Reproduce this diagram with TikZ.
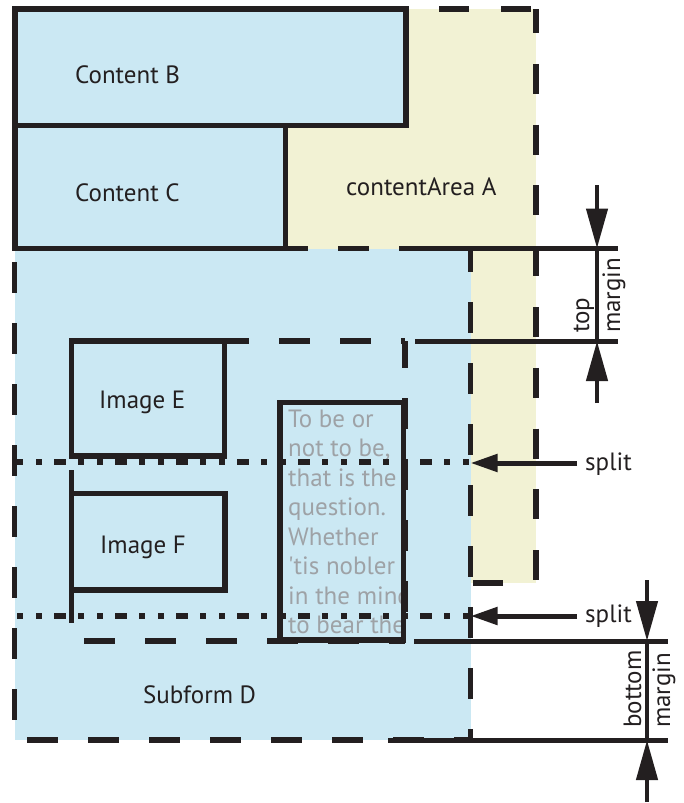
\documentclass[tikz,border=0pt]{standalone}
\usepackage{fontspec}
\setmainfont{PT Sans}
\usetikzlibrary{arrows.meta}
\definecolor{fillblue}{RGB}{203,232,243}
\definecolor{fillyel}{RGB}{242,242,212}
\definecolor{ink}{RGB}{35,31,32}
\definecolor{greytxt}{RGB}{158,162,166}
\begin{document}
\begin{tikzpicture}[x=1pt,y=-1pt,
  lbl/.style={font=\fontsize{25}{29}\selectfont, text=ink, inner sep=0pt, anchor=base west},
  gtxt/.style={font=\fontsize{25}{29}\selectfont, text=greytxt, inner sep=0pt, anchor=base west},
  solidline/.style={draw=ink, line width=5.5pt},
  dashline/.style={draw=ink, line width=5.5pt, dash pattern=on 31pt off 30pt},
  dotline/.style={draw=ink, line width=6pt, dash pattern=on 6pt off 13pt on 6pt off 12pt on 12pt off 12pt},
  marginline/.style={draw=ink, line width=5pt},
  arrowline/.style={draw=ink, line width=4.5pt, -{Triangle[length=40pt,width=21pt]}},
  splitarrow/.style={draw=ink, line width=5pt, -{Triangle[length=27pt,width=17pt]}}]
\useasboundingbox (0,0) rectangle (683,803);

% corners
\coordinate (Atl) at (15,9);      \coordinate (Abr) at (536,583);
\coordinate (Dtl) at (14.5,248.5); \coordinate (Dbr) at (470.5,740);
\coordinate (Btl) at (15,9);      \coordinate (Bbr) at (406,125.5);
\coordinate (Ctl) at (15,125.5);  \coordinate (Cbr) at (285.5,248.5);
\coordinate (Etl) at (71.5,341);  \coordinate (Ebr) at (224.5,456);
\coordinate (Ftl) at (71.5,493.5); \coordinate (Fbr) at (225,590);
\coordinate (Ttl) at (280,402.5); \coordinate (Tbr) at (403.5,640);

% fills
\fill[fillyel] (Atl) rectangle (Abr);
\fill[fillblue] (Dtl) rectangle (Dbr);
\fill[fillblue] (Btl) rectangle (Bbr);
\fill[fillblue] (Ctl) rectangle (Cbr);

% labels
\node[lbl] (lB) at (75,83) {Content B};
\node[lbl] (lC) at (75,201) {Content C};
\node[lbl] (lA) at (346,195) {contentArea A};
\node[lbl] (lE) at (99,408) {Image E};
\node[lbl] (lF) at (100,553) {Image F};
\node[lbl] (lD) at (143,703) {Subform D};
\node[lbl] (ls1) at (585,470) {split};
\node[lbl] (ls2) at (585,622) {split};
\node[lbl, rotate=90] (ltop) at (589,333) {top};
\node[lbl, rotate=90] (ltm) at (620,333) {margin};
\node[lbl, rotate=90] (lbot) at (641,728) {bottom};
\node[lbl, rotate=90] (lbm) at (670,728) {margin};

% flowing text, clipped by its box
\begin{scope}
\clip (Ttl) rectangle (Tbr);
\node[gtxt] (t1) at (288,427) {To be or};
\node[gtxt] (t2) at (288,456.5) {not to be,};
\node[gtxt] (t3) at (288,486) {that is the};
\node[gtxt] (t4) at (288,515.5) {question.};
\node[gtxt] (t5) at (288,545) {Whether};
\node[gtxt] (t6) at (288,574.5) {\textquotesingle tis nobler};
\node[gtxt] (t7) at (288,604) {in the mind};
\node[gtxt] (t8) at (288,633.5) {to bear the};
\end{scope}

% contentArea A border (visible parts)
\draw[draw=ink, line width=5.5pt, dash pattern=on 30pt off 32pt, dash phase=29pt] (406,9) -- (536,9);
\draw[draw=ink, line width=5.5pt, dash pattern=on 30pt off 30.8pt, dash phase=6pt] (536,9) -- (536,583);
\draw[draw=ink, line width=5.5pt, dash pattern=on 30pt off 33pt, dash phase=30pt] (536,583) -- (470.5,583);

% Subform D border
\draw[dashline, dash phase=42.5pt] (14.5,248.5) -- (470.5,248.5);
\draw[dashline, dash phase=47.5pt] (14.5,248.5) -- (14.5,740);
\draw[dashline, dash phase=48.5pt] (14.5,740) -- (470.5,740);
\draw[dashline, dash phase=7.5pt] (470.5,248.5) -- (470.5,740);

% inner dashed area of D
\draw[dashline, dash phase=36.5pt] (71.5,341) -- (405,341);
\draw[dashline, dash phase=4pt] (405,341) -- (405,641);
\draw[dashline, dash phase=48.5pt] (71.5,641) -- (405,641);
\draw[solidline] (71.5,470) -- (71.5,623);

% solid boxes
\draw[solidline] (Btl) rectangle (Bbr);
\draw[solidline] (Ctl) rectangle (Cbr);
\draw[solidline] (Etl) rectangle (Ebr);
\draw[solidline] (Ftl) rectangle (Fbr);
\draw[solidline] (Ttl) rectangle (Tbr);

% split lines
\draw[dotline] (17,462) -- (470.5,462);
\draw[dotline] (17,616) -- (470.5,616);

% margin guide lines
\draw[marginline] (400,248.5) -- (618,248.5);
\draw[marginline] (415,341) -- (618,341);
\draw[marginline] (414,641) -- (668,641);
\draw[marginline] (388,740) -- (668,740);
\draw[draw=ink, line width=4.5pt] (597,248.5) -- (597,341);
\draw[draw=ink, line width=4.5pt] (647,641) -- (647,740);

% arrows
\coordinate (tmA) at (597,185);  \coordinate (tmAe) at (597,248.5);
\coordinate (tmB) at (597,403);  \coordinate (tmBe) at (597,341);
\coordinate (bmA) at (647,580);  \coordinate (bmAe) at (647,641);
\coordinate (bmB) at (647,802);  \coordinate (bmBe) at (647,740);
\coordinate (sp1) at (577,463);  \coordinate (sp1e) at (470.5,463);
\coordinate (sp2) at (577,616);  \coordinate (sp2e) at (470.5,616);
\draw[arrowline] (tmA) -- (tmAe);
\draw[arrowline] (tmB) -- (tmBe);
\draw[arrowline] (bmA) -- (bmAe);
\draw[arrowline] (bmB) -- (bmBe);
\draw[splitarrow] (sp1) -- (sp1e);
\draw[splitarrow] (sp2) -- (sp2e);
\end{tikzpicture}
\end{document}
